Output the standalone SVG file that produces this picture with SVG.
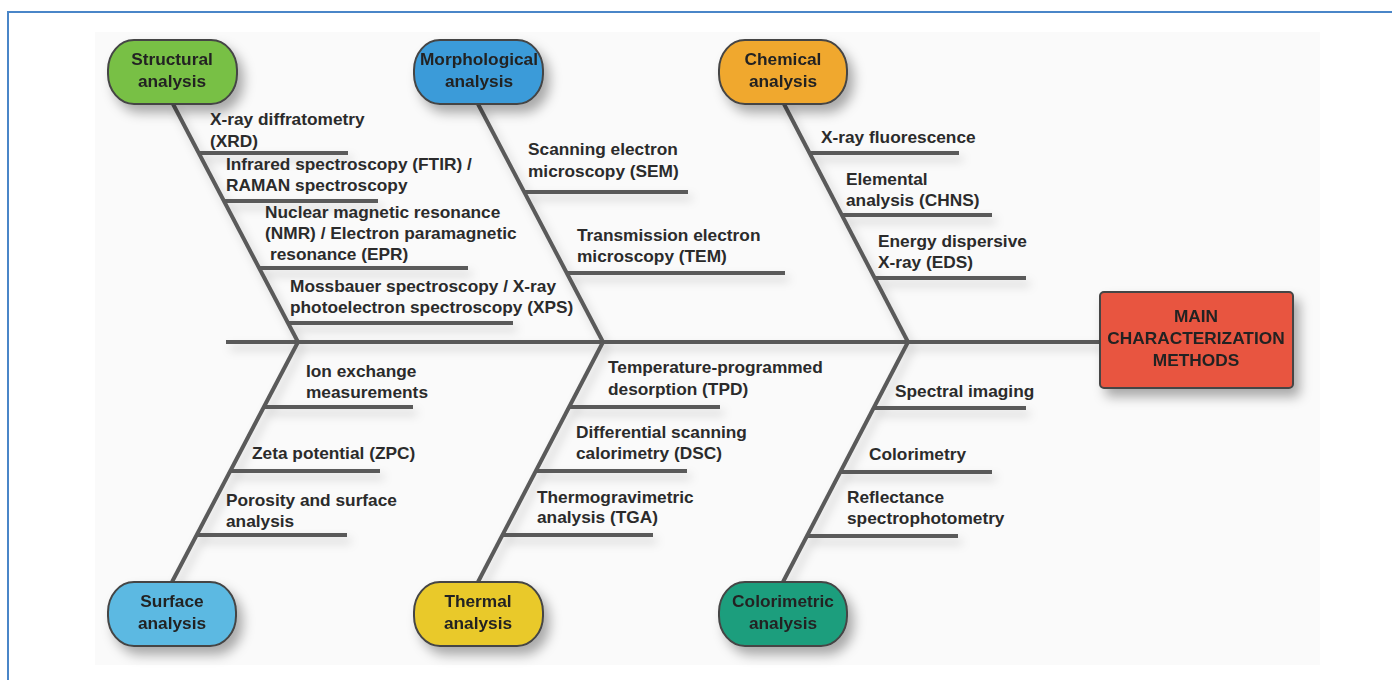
<svg xmlns="http://www.w3.org/2000/svg" width="1392" height="680" viewBox="0 0 1392 680">
  <style>
    .t { font-family: "Liberation Sans", Arial, sans-serif; font-weight: bold; font-size: 17.3px; fill: #2b2b2b; }
    .c { text-anchor: middle; fill: #242424; }
    .ln { stroke: #5a5a5a; stroke-width: 4; fill: none; stroke-linecap: butt; }
    .nd { stroke: #454545; stroke-width: 2; }
  </style>
  <defs>
    <filter id="sh" x="-20%" y="-20%" width="150%" height="160%">
      <feDropShadow dx="6" dy="8" stdDeviation="6" flood-color="#000" flood-opacity="0.32"/>
    </filter>
    <filter id="sh2" x="-10%" y="-10%" width="120%" height="130%">
      <feDropShadow dx="4" dy="6" stdDeviation="5" flood-color="#000" flood-opacity="0.18"/>
    </filter>
  </defs>
  <rect x="0" y="0" width="1392" height="680" fill="#ffffff"/>
  <rect x="95" y="32" width="1225" height="633" fill="#fafafa"/>
  <path d="M8 680 V12 H1392" fill="none" stroke="#4a86c8" stroke-width="2"/>

  <g id="connectors" filter="url(#sh2)">
    <line class="ln" x1="226" y1="342" x2="1100" y2="342"/>
    <!-- diagonals -->
    <line class="ln" x1="173" y1="104" x2="298" y2="342"/>
    <line class="ln" x1="478" y1="104" x2="603" y2="342"/>
    <line class="ln" x1="784" y1="104" x2="908" y2="342"/>
    <line class="ln" x1="172" y1="582" x2="298" y2="342"/>
    <line class="ln" x1="478" y1="582" x2="603" y2="342"/>
    <line class="ln" x1="783" y1="582" x2="908" y2="342"/>
    <!-- structural ribs -->
    <line class="ln" x1="199" y1="153" x2="348" y2="153"/>
    <line class="ln" x1="224" y1="201" x2="378" y2="201"/>
    <line class="ln" x1="259" y1="268" x2="468" y2="268"/>
    <line class="ln" x1="288" y1="323" x2="513" y2="323"/>
    <!-- morphological ribs -->
    <line class="ln" x1="524" y1="192" x2="688" y2="192"/>
    <line class="ln" x1="567" y1="273" x2="785" y2="273"/>
    <!-- chemical ribs -->
    <line class="ln" x1="810" y1="153" x2="959" y2="153"/>
    <line class="ln" x1="842" y1="215" x2="992" y2="215"/>
    <line class="ln" x1="875" y1="278" x2="1026" y2="278"/>
    <!-- surface ribs -->
    <line class="ln" x1="264" y1="407" x2="413" y2="407"/>
    <line class="ln" x1="230" y1="471" x2="380" y2="471"/>
    <line class="ln" x1="197" y1="535" x2="347" y2="535"/>
    <!-- thermal ribs -->
    <line class="ln" x1="569" y1="407" x2="720" y2="407"/>
    <line class="ln" x1="535" y1="471" x2="687" y2="471"/>
    <line class="ln" x1="502" y1="535" x2="653" y2="535"/>
    <!-- colorimetric ribs -->
    <line class="ln" x1="873" y1="408" x2="1026" y2="408"/>
    <line class="ln" x1="840" y1="472" x2="992" y2="472"/>
    <line class="ln" x1="806" y1="536" x2="958" y2="536"/>
  </g>

  <g id="main" filter="url(#sh)">
    <rect class="nd" x="1100" y="292" width="193" height="96" rx="4" fill="#e8543f"/>
    <text class="t c" x="1196" y="322">MAIN</text>
    <text class="t c" x="1196" y="344">CHARACTERIZATION</text>
    <text class="t c" x="1196" y="366">METHODS</text>
  </g>

  <g id="structural" filter="url(#sh)">
    <rect class="nd" x="108" y="40" width="129" height="64" rx="26" ry="30" fill="#78c044"/>
    <text class="t c" x="172" y="65">Structural</text>
    <text class="t c" x="172" y="87">analysis</text>
  </g>
  <g id="morphological" filter="url(#sh)">
    <rect class="nd" x="414" y="40" width="129" height="64" rx="26" ry="30" fill="#3b9bd9"/>
    <text class="t c" x="479" y="65">Morphological</text>
    <text class="t c" x="479" y="87">analysis</text>
  </g>
  <g id="chemical" filter="url(#sh)">
    <rect class="nd" x="719" y="40" width="128" height="64" rx="26" ry="30" fill="#f0a82f"/>
    <text class="t c" x="783" y="65">Chemical</text>
    <text class="t c" x="783" y="87">analysis</text>
  </g>
  <g id="surface" filter="url(#sh)">
    <rect class="nd" x="108" y="582" width="128" height="64" rx="26" ry="30" fill="#5bb9e2"/>
    <text class="t c" x="172" y="607">Surface</text>
    <text class="t c" x="172" y="629">analysis</text>
  </g>
  <g id="thermal" filter="url(#sh)">
    <rect class="nd" x="414" y="582" width="129" height="64" rx="26" ry="30" fill="#e9c92c"/>
    <text class="t c" x="478" y="607">Thermal</text>
    <text class="t c" x="478" y="629">analysis</text>
  </g>
  <g id="colorimetric" filter="url(#sh)">
    <rect class="nd" x="719" y="582" width="128" height="64" rx="26" ry="30" fill="#1f9e7d"/>
    <text class="t c" x="783" y="607">Colorimetric</text>
    <text class="t c" x="783" y="629">analysis</text>
  </g>

  <g id="structural-methods">
    <text class="t" x="210" y="125">X-ray diffratometry</text>
    <text class="t" x="210" y="147">(XRD)</text>
    <text class="t" x="226" y="170">Infrared spectroscopy (FTIR) /</text>
    <text class="t" x="226" y="191">RAMAN spectroscopy</text>
    <text class="t" x="265" y="218">Nuclear magnetic resonance</text>
    <text class="t" x="265" y="239">(NMR) / Electron paramagnetic</text>
    <text class="t" x="270" y="260">resonance (EPR)</text>
    <text class="t" x="290" y="292">Mossbauer spectroscopy / X-ray</text>
    <text class="t" x="290" y="313">photoelectron spectroscopy (XPS)</text>
  </g>
  <g id="morphological-methods">
    <text class="t" x="528" y="155">Scanning electron</text>
    <text class="t" x="528" y="177">microscopy (SEM)</text>
    <text class="t" x="577" y="241">Transmission electron</text>
    <text class="t" x="577" y="262">microscopy (TEM)</text>
  </g>
  <g id="chemical-methods">
    <text class="t" x="821" y="143">X-ray fluorescence</text>
    <text class="t" x="846" y="185">Elemental</text>
    <text class="t" x="846" y="206">analysis (CHNS)</text>
    <text class="t" x="878" y="247">Energy dispersive</text>
    <text class="t" x="878" y="268">X-ray (EDS)</text>
  </g>
  <g id="surface-methods">
    <text class="t" x="306" y="377">Ion exchange</text>
    <text class="t" x="306" y="398">measurements</text>
    <text class="t" x="252" y="459">Zeta potential (ZPC)</text>
    <text class="t" x="226" y="506">Porosity and surface</text>
    <text class="t" x="226" y="527">analysis</text>
  </g>
  <g id="thermal-methods">
    <text class="t" x="608" y="373">Temperature-programmed</text>
    <text class="t" x="608" y="395">desorption (TPD)</text>
    <text class="t" x="576" y="438">Differential scanning</text>
    <text class="t" x="576" y="459">calorimetry (DSC)</text>
    <text class="t" x="537" y="503">Thermogravimetric</text>
    <text class="t" x="537" y="523">analysis (TGA)</text>
  </g>
  <g id="colorimetric-methods">
    <text class="t" x="895" y="397">Spectral imaging</text>
    <text class="t" x="869" y="460">Colorimetry</text>
    <text class="t" x="847" y="503">Reflectance</text>
    <text class="t" x="847" y="524">spectrophotometry</text>
  </g>
</svg>
